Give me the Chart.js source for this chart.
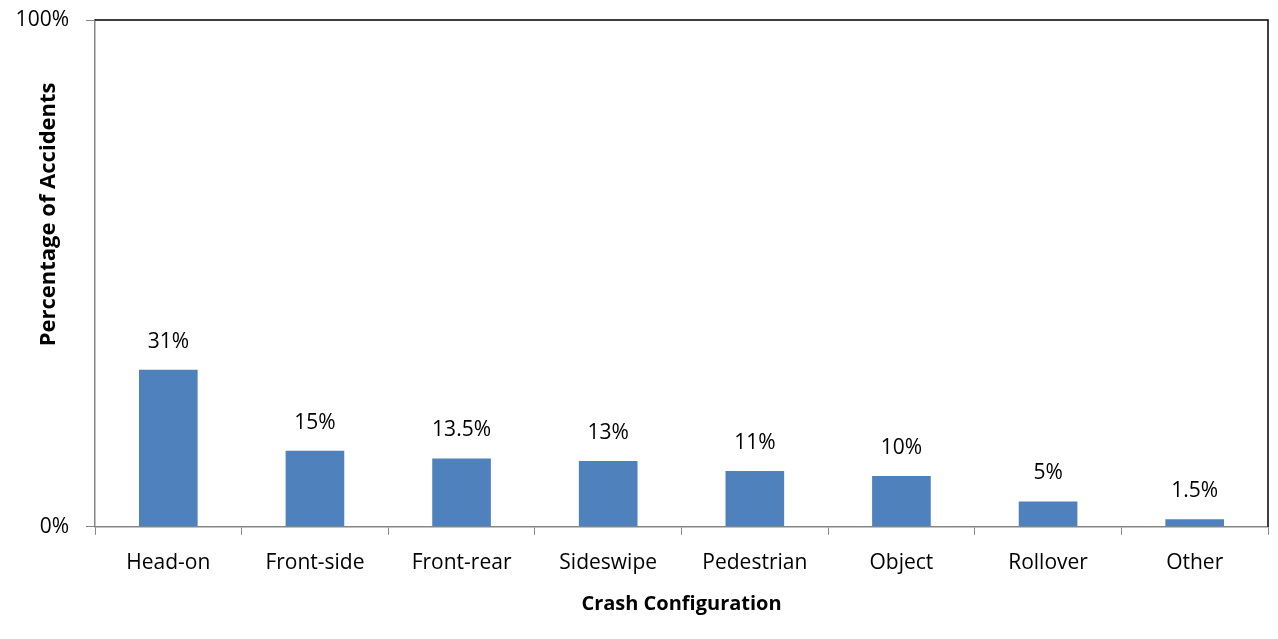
<!DOCTYPE html>
<html>
<head>
<meta charset="utf-8">
<script src="https://cdn.jsdelivr.net/npm/chart.js@4"></script>
<style>
  html, body { margin: 0; padding: 0; background: #fff; }
  #wrap { width: 1278px; height: 639px; }
</style>
</head>
<body>
<div id="wrap"><canvas id="crashChart"></canvas></div>
<script>
const categories = ['Head-on', 'Front-side', 'Front-rear', 'Sideswipe', 'Pedestrian', 'Object', 'Rollover', 'Other'];
const percentages = [31, 15, 13.5, 13, 11, 10, 5, 1.5];
const yTicks = [0, 100];

const FONT = "'Open Sans', sans-serif";

// Value labels above each bar
const barLabels = {
  id: 'barLabels',
  afterDatasetsDraw(chart) {
    const { ctx } = chart;
    const meta = chart.getDatasetMeta(0);
    ctx.save();
    ctx.fillStyle = '#000';
    ctx.font = `21px ${FONT}`;
    ctx.textAlign = 'center';
    ctx.textBaseline = 'middle';
    meta.data.forEach((bar, i) => {
      ctx.fillText(`${percentages[i]}%`, bar.x, bar.y - 28);
    });
    ctx.restore();
  }
};

// Black top/right frame + y title sitting between the tick labels (like Excel)
const plotFrame = {
  id: 'plotFrame',
  afterDraw(chart) {
    const { ctx, chartArea: a } = chart;
    ctx.save();
    ctx.strokeStyle = '#000';
    ctx.lineWidth = 1.5;
    ctx.beginPath();
    ctx.moveTo(a.left, a.top);
    ctx.lineTo(a.right, a.top);
    ctx.lineTo(a.right, a.bottom);
    ctx.stroke();

    // Excel placed the title a bit above the middle of the plot
    ctx.translate(a.left - 46, (a.top + a.bottom) / 2 - 59);
    ctx.rotate(-Math.PI / 2);
    ctx.fillStyle = '#000';
    ctx.font = `bold 22px ${FONT}`;
    ctx.textAlign = 'center';
    ctx.textBaseline = 'middle';
    ctx.fillText('Percentage of Accidents', 0, 0);
    ctx.restore();
  }
};

const ctx = document.getElementById('crashChart').getContext('2d');
new Chart(ctx, {
  type: 'bar',
  data: {
    labels: categories,
    datasets: [{
      label: 'Percentage of Accidents',
      data: percentages,
      backgroundColor: '#4F81BD',
      borderWidth: 0,
      barPercentage: 0.4,
      categoryPercentage: 1.0
    }]
  },
  options: {
    responsive: true,
    maintainAspectRatio: false,
    animation: false,
    layout: { padding: { top: 20, right: 10, left: 10, bottom: 23 } },
    plugins: {
      legend: { display: false },
      tooltip: { enabled: false }
    },
    scales: {
      x: {
        grid: {
          display: true,
          drawOnChartArea: false,
          offset: true,
          tickLength: 8,
          color: '#868686'
        },
        border: { display: true, color: '#868686', width: 1.5 },
        ticks: { color: '#000', font: { family: FONT, size: 21 }, padding: 16 },
        title: {
          display: true,
          text: 'Crash Configuration',
          color: '#000',
          font: { family: FONT, size: 20, weight: 'bold' },
          padding: { top: 0, bottom: 0 }
        }
      },
      y: {
        min: 0,
        max: 100,
        afterBuildTicks: axis => { axis.ticks = yTicks.map(v => ({ value: v })); },
        afterFit: axis => {
          axis.width = 85;
          axis.paddingTop = 0;
          axis.paddingBottom = 0;
        },
        grid: {
          display: true,
          drawOnChartArea: false,
          tickLength: 9,
          color: '#868686'
        },
        border: { display: true, color: '#868686', width: 1.5 },
        ticks: {
          color: '#000',
          font: { family: FONT, size: 21 },
          padding: 17,
          callback: v => `${v}%`
        }
      }
    }
  },
  plugins: [barLabels, plotFrame]
});
</script>
</body>
</html>
